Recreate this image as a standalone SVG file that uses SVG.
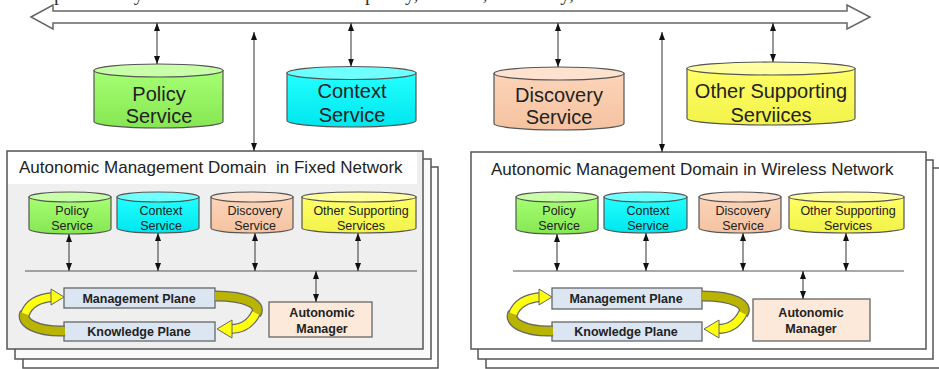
<svg xmlns="http://www.w3.org/2000/svg" width="939" height="369" viewBox="0 0 939 369">
<defs>
<marker id="ah" viewBox="0 0 8 6" refX="8" refY="3" markerWidth="8" markerHeight="6" markerUnits="userSpaceOnUse" orient="auto-start-reverse">
<path d="M0,0 L8,3 L0,6 Z" fill="#111"/>
</marker>
<linearGradient id="gGreen" x1="0" y1="0" x2="0" y2="1"><stop offset="0" stop-color="#a6ff73"/><stop offset="1" stop-color="#86e652"/></linearGradient>
<linearGradient id="gCyan" x1="0" y1="0" x2="0" y2="1"><stop offset="0" stop-color="#22ffff"/><stop offset="1" stop-color="#00e6ee"/></linearGradient>
<linearGradient id="gPeach" x1="0" y1="0" x2="0" y2="1"><stop offset="0" stop-color="#fcd4b8"/><stop offset="1" stop-color="#f4c2a0"/></linearGradient>
<linearGradient id="gYellow" x1="0" y1="0" x2="0" y2="1"><stop offset="0" stop-color="#ffff66"/><stop offset="1" stop-color="#f2f24a"/></linearGradient>
</defs>
<style>
.lbl{font-family:"Liberation Sans",Arial,sans-serif;fill:#222;text-anchor:middle}
.big{font-size:20px}
.sm{font-size:12.5px}
.bold{font-size:12.5px;font-weight:bold;fill:#222;font-family:"Liberation Sans",Arial,sans-serif;text-anchor:middle}
.title{font-family:"Liberation Sans",Arial,sans-serif;font-size:17px;fill:#222;white-space:pre}
.cyl{stroke:#555;stroke-width:1.2}
.conn{stroke:#444;stroke-width:1.1;fill:none;marker-start:url(#ah);marker-end:url(#ah)}
.box{stroke:#555;stroke-width:1.5}
.plane{fill:#dce6f2;stroke:#666;stroke-width:1.3}
.am{fill:#fde9d9;stroke:#666;stroke-width:1.3}
.bus{stroke:#555;stroke-width:1.2}
.rib{fill:none;stroke-linecap:butt}
</style>
<rect width="939" height="369" fill="#fff"/>
<text x="15" y="0" font-family="Liberation Serif,serif" font-size="20" fill="#333">Complementary Services of the same kind: policy, context, discovery, etc.</text>

<g id="bus-top">
<polygon points="31,17 53,5 53,11 847,11 847,5 870,17 847,29 847,23 53,23 53,29" fill="#fff" stroke="#666" stroke-width="1.5"/>
</g>

<g id="policy-service">
<path class="cyl" fill="url(#gGreen)" d="M94,70.5 L94,121.5 A64.5,6.5 0 0 0 223,121.5 L223,70.5 Z"/>
<ellipse class="cyl" cx="158.5" cy="70.5" rx="64.5" ry="6.5" fill="#c8ffa8"/>
<text class="lbl big" x="159" y="101">Policy</text>
<text class="lbl big" x="159" y="123">Service</text>
</g>
<g id="context-service">
<path class="cyl" fill="url(#gCyan)" d="M287,73 L287,120.5 A64.5,6.5 0 0 0 416,120.5 L416,73 Z"/>
<ellipse class="cyl" cx="351.5" cy="73" rx="64.5" ry="6.5" fill="#70ffff"/>
<text class="lbl big" x="352" y="98">Context</text>
<text class="lbl big" x="352" y="122">Service</text>
</g>
<g id="discovery-service">
<path class="cyl" fill="url(#gPeach)" d="M494,73.5 L494,123.5 A65,6.5 0 0 0 624,123.5 L624,73.5 Z"/>
<ellipse class="cyl" cx="559" cy="73.5" rx="65" ry="6.5" fill="#fde2d0"/>
<text class="lbl big" x="559" y="102">Discovery</text>
<text class="lbl big" x="559" y="124">Service</text>
</g>
<g id="other-services">
<path class="cyl" fill="url(#gYellow)" d="M687,68.5 L687,118.5 A84,6.5 0 0 0 855,118.5 L855,68.5 Z"/>
<ellipse class="cyl" cx="771" cy="68.5" rx="84" ry="6.5" fill="#ffffa0"/>
<text class="lbl big" x="771" y="98">Other Supporting</text>
<text class="lbl big" x="771" y="122">Serviices</text>
</g>

<g id="domain-fixed">
<rect class="box" x="23" y="167" width="415" height="201" fill="#fff"/>
<rect class="box" x="15" y="159" width="416" height="200" fill="#fafafa"/>
<rect class="box" x="7" y="151" width="416" height="198" fill="#efefef"/>
<rect x="8" y="152" width="409" height="32" fill="#fff"/>
<text class="title" x="19" y="173">Autonomic Management Domain  in Fixed Network</text>
<line class="bus" x1="25" y1="271" x2="417" y2="271"/>
</g>
<g id="f-policy">
<path class="cyl" fill="url(#gGreen)" d="M29,197 L29,229 A41,5 0 0 0 111,229 L111,197 Z"/>
<ellipse class="cyl" cx="70" cy="197" rx="41" ry="5" fill="#c8ffa8"/>
<text class="lbl sm" x="72" y="215">Policy</text>
<text class="lbl sm" x="72" y="230">Service</text>
</g>
<g id="f-context">
<path class="cyl" fill="url(#gCyan)" d="M117,197 L117,228 A41,5 0 0 0 199,228 L199,197 Z"/>
<ellipse class="cyl" cx="158" cy="197" rx="41" ry="5" fill="#70ffff"/>
<text class="lbl sm" x="161" y="215">Context</text>
<text class="lbl sm" x="161" y="230">Service</text>
</g>
<g id="f-discovery">
<path class="cyl" fill="url(#gPeach)" d="M211,197 L211,228 A41,5 0 0 0 293,228 L293,197 Z"/>
<ellipse class="cyl" cx="252" cy="197" rx="41" ry="5" fill="#fde2d0"/>
<text class="lbl sm" x="255" y="215">Discovery</text>
<text class="lbl sm" x="255" y="230">Service</text>
</g>
<g id="f-other">
<path class="cyl" fill="url(#gYellow)" d="M302,197 L302,228 A57,5 0 0 0 416,228 L416,197 Z"/>
<ellipse class="cyl" cx="359" cy="197" rx="57" ry="5" fill="#ffffa0"/>
<text class="lbl sm" x="361" y="215">Other Supporting</text>
<text class="lbl sm" x="361" y="230">Services</text>
</g>
<g id="f-mgmt-plane">
<rect class="plane" x="64" y="288" width="151" height="20"/>
<text class="bold" x="139" y="303">Management Plane</text>
</g>
<g id="f-know-plane">
<rect class="plane" x="64" y="322" width="151" height="19"/>
<text class="bold" x="139" y="336">Knowledge Plane</text>
</g>
<g id="f-am">
<rect class="am" x="269" y="302" width="103" height="35"/>
<text class="bold" x="322" y="317">Autonomic</text>
<text class="bold" x="322" y="333">Manager</text>
</g>
<g id="f-loop">
<path class="rib" d="M65,331 C36,332 20,322 25,313" stroke="#666" stroke-width="11"/>
<path class="rib" d="M65,331 C36,332 20,322 25,313" stroke="#b8b400" stroke-width="8.5"/>
<path class="rib" d="M25,314 C29,303 40,298 53,297" stroke="#666" stroke-width="10"/>
<path class="rib" d="M25,314 C29,303 40,298 53,297" stroke="#ffff10" stroke-width="7.5"/>
<polygon points="51,289 64,297 51,305" fill="#ffff10" stroke="#666" stroke-width="1"/>
<path class="rib" d="M215,296 C248,296 262,305 256,314" stroke="#666" stroke-width="11"/>
<path class="rib" d="M215,296 C248,296 262,305 256,314" stroke="#b8b400" stroke-width="8.5"/>
<path class="rib" d="M256,313 C251,323 243,329 231,329" stroke="#666" stroke-width="10"/>
<path class="rib" d="M256,313 C251,323 243,329 231,329" stroke="#ffff10" stroke-width="7.5"/>
<polygon points="232,320 217,329 232,338" fill="#ffff10" stroke="#666" stroke-width="1"/>
</g>

<g id="domain-wireless">
<rect class="box" x="486" y="168" width="460" height="200" fill="#fff"/>
<rect class="box" x="478" y="160" width="455" height="199" fill="#fff"/>
<rect class="box" x="471" y="152" width="455" height="197" fill="#fff"/>
<text class="title" x="491" y="175">Autonomic Management Domain in Wireless Network</text>
<line class="bus" x1="513" y1="271" x2="904" y2="271"/>
</g>
<g id="w-policy">
<path class="cyl" fill="url(#gGreen)" d="M516,197 L516,229 A41,5 0 0 0 598,229 L598,197 Z"/>
<ellipse class="cyl" cx="557" cy="197" rx="41" ry="5" fill="#c8ffa8"/>
<text class="lbl sm" x="559" y="215">Policy</text>
<text class="lbl sm" x="559" y="230">Service</text>
</g>
<g id="w-context">
<path class="cyl" fill="url(#gCyan)" d="M604,197 L604,228 A41.5,5 0 0 0 687,228 L687,197 Z"/>
<ellipse class="cyl" cx="645.5" cy="197" rx="41.5" ry="5" fill="#70ffff"/>
<text class="lbl sm" x="648" y="215">Context</text>
<text class="lbl sm" x="648" y="230">Service</text>
</g>
<g id="w-discovery">
<path class="cyl" fill="url(#gPeach)" d="M699,197 L699,228 A41,5 0 0 0 781,228 L781,197 Z"/>
<ellipse class="cyl" cx="740" cy="197" rx="41" ry="5" fill="#fde2d0"/>
<text class="lbl sm" x="743" y="215">Discovery</text>
<text class="lbl sm" x="743" y="230">Service</text>
</g>
<g id="w-other">
<path class="cyl" fill="url(#gYellow)" d="M789,197 L789,228 A57.5,5 0 0 0 904,228 L904,197 Z"/>
<ellipse class="cyl" cx="846.5" cy="197" rx="57.5" ry="5" fill="#ffffa0"/>
<text class="lbl sm" x="848" y="215">Other Supporting</text>
<text class="lbl sm" x="848" y="230">Services</text>
</g>
<g id="w-mgmt-plane">
<rect class="plane" x="552" y="288" width="150" height="21"/>
<text class="bold" x="626" y="303">Management Plane</text>
</g>
<g id="w-know-plane">
<rect class="plane" x="552" y="322" width="150" height="19"/>
<text class="bold" x="626" y="336">Knowledge Plane</text>
</g>
<g id="w-am">
<rect class="am" x="753" y="299" width="117" height="42"/>
<text class="bold" x="811" y="317">Autonomic</text>
<text class="bold" x="811" y="333">Manager</text>
</g>
<g id="w-loop">
<path class="rib" d="M553,331 C524,332 508,322 513,313" stroke="#666" stroke-width="11"/>
<path class="rib" d="M553,331 C524,332 508,322 513,313" stroke="#b8b400" stroke-width="8.5"/>
<path class="rib" d="M513,314 C517,303 528,298 541,297" stroke="#666" stroke-width="10"/>
<path class="rib" d="M513,314 C517,303 528,298 541,297" stroke="#ffff10" stroke-width="7.5"/>
<polygon points="539,289 552,297 539,305" fill="#ffff10" stroke="#666" stroke-width="1"/>
<path class="rib" d="M702,296 C735,296 749,305 743,314" stroke="#666" stroke-width="11"/>
<path class="rib" d="M702,296 C735,296 749,305 743,314" stroke="#b8b400" stroke-width="8.5"/>
<path class="rib" d="M743,313 C738,323 730,329 718,329" stroke="#666" stroke-width="10"/>
<path class="rib" d="M743,313 C738,323 730,329 718,329" stroke="#ffff10" stroke-width="7.5"/>
<polygon points="719,320 704,329 719,338" fill="#ffff10" stroke="#666" stroke-width="1"/>
</g>

<g id="connectors">
<line class="conn" x1="157" y1="23" x2="157" y2="64"/>
<line class="conn" x1="351" y1="23" x2="351" y2="66.5"/>
<line class="conn" x1="558" y1="23" x2="558" y2="67"/>
<line class="conn" x1="773" y1="23" x2="773" y2="62"/>
<line class="conn" x1="254" y1="32" x2="254" y2="151"/>
<line class="conn" x1="662" y1="32" x2="662" y2="152"/>
<line class="conn" x1="69" y1="234" x2="69" y2="271"/>
<line class="conn" x1="158" y1="233" x2="158" y2="271"/>
<line class="conn" x1="255" y1="233" x2="255" y2="271"/>
<line class="conn" x1="358" y1="233" x2="358" y2="271"/>
<line class="conn" x1="316" y1="271" x2="316" y2="302"/>
<line class="conn" x1="557" y1="234" x2="557" y2="271"/>
<line class="conn" x1="646" y1="233" x2="646" y2="271"/>
<line class="conn" x1="743" y1="233" x2="743" y2="271"/>
<line class="conn" x1="846" y1="233" x2="846" y2="271"/>
<line class="conn" x1="803" y1="271" x2="803" y2="299"/>
</g>
</svg>
